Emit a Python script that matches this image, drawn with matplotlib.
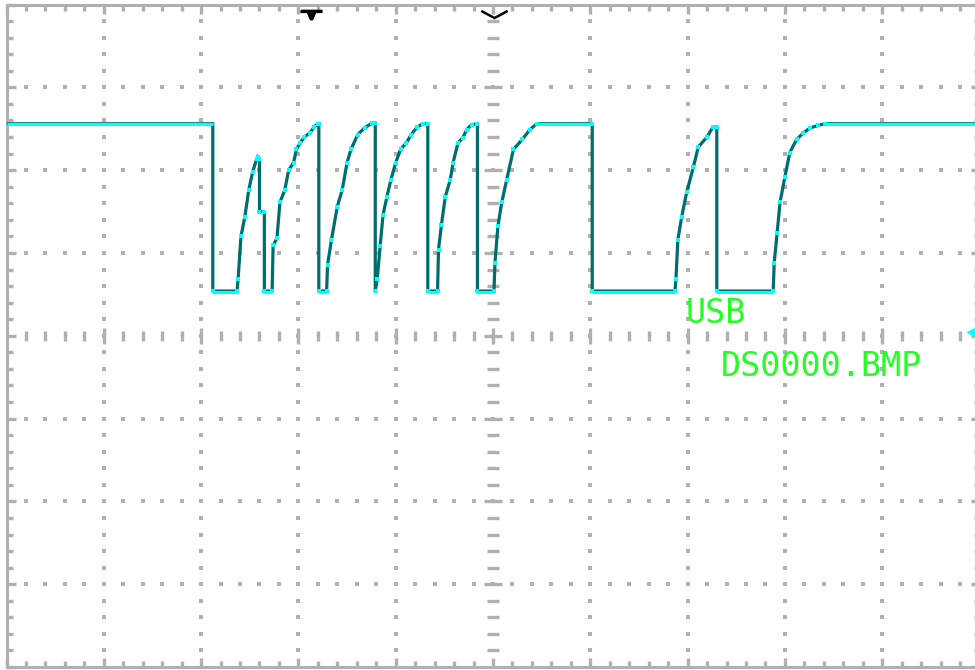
import numpy as np
import matplotlib
matplotlib.use("Agg")
import matplotlib.pyplot as plt
from matplotlib.path import Path

# screen is 10 x 8 divisions, values below are in divisions
t = [0.00, 2.12, 2.12, 2.37, 2.38, 2.41, 2.45, 2.49, 2.53, 2.57, 2.58, 2.60, 2.60, 2.65, 2.65,
     2.73, 2.74, 2.78, 2.81, 2.86, 2.90, 2.95, 2.98, 3.02, 3.06, 3.12, 3.16, 3.20, 3.21, 3.21,
     3.29, 3.30, 3.34, 3.40, 3.45, 3.50, 3.54, 3.61, 3.68, 3.76, 3.79, 3.79,
     3.81, 3.84, 3.87, 3.91, 3.95, 4.00, 4.05, 4.11, 4.16, 4.22, 4.28, 4.33, 4.33,
     4.43, 4.44, 4.47, 4.51, 4.56, 4.59, 4.64, 4.69, 4.73, 4.78, 4.84, 4.84,
     5.01, 5.02, 5.05, 5.09, 5.14, 5.21, 5.30, 5.38, 5.45, 6.02, 6.02,
     6.87, 6.88, 6.90, 6.94, 6.99, 7.06, 7.11, 7.20, 7.26, 7.30, 7.30,
     7.88, 7.89, 7.92, 7.95, 8.00, 8.05, 8.12, 8.19, 8.26, 8.34, 8.41, 10.05]
v = [2.56, 2.56, 0.54, 0.54, 0.68, 1.20, 1.44, 1.76, 1.98, 2.13, 2.16, 2.13, 1.50, 1.50, 0.54,
     0.54, 1.09, 1.18, 1.61, 1.76, 2.00, 2.09, 2.25, 2.33, 2.40, 2.45, 2.52, 2.56, 2.56, 0.54,
     0.54, 0.86, 1.16, 1.56, 1.76, 2.09, 2.25, 2.43, 2.51, 2.57, 2.57, 0.54,
     0.68, 1.08, 1.46, 1.68, 1.88, 2.09, 2.25, 2.33, 2.43, 2.52, 2.56, 2.56, 0.54,
     0.54, 1.04, 1.34, 1.68, 1.88, 2.09, 2.33, 2.39, 2.49, 2.55, 2.56, 0.54,
     0.54, 0.88, 1.32, 1.61, 1.88, 2.25, 2.37, 2.49, 2.56, 2.56, 0.54,
     0.54, 0.68, 1.16, 1.44, 1.73, 2.04, 2.28, 2.40, 2.52, 2.52, 0.54,
     0.54, 0.88, 1.24, 1.61, 1.92, 2.21, 2.37, 2.45, 2.51, 2.54, 2.56, 2.56]

high_level = 2.56
high_start = [0.00, 5.45, 8.41]
high_end = [2.12, 6.02, 10.05]
low_level = 0.53
low_start = [2.12, 2.65, 3.21, 4.33, 4.84, 6.02, 7.30]
low_end = [2.37, 2.73, 3.29, 4.43, 5.01, 6.87, 7.88]

trig_pos = 5.01
marker_pos = 3.125
level_pos = 0.05

label1 = "USB"
label2 = "DS0000.BMP"

grid_c = "#b0b0b0"
teal = "#006d6d"
cyan = "#00ffff"
green = "#22ff22"

fig = plt.figure(figsize=(9.75, 6.7), dpi=100)
ax = fig.add_axes([6.5 / 975, 3 / 670, 973 / 975, 662.5 / 670])
ax.set_xlim(0, 10)
ax.set_ylim(-4, 4)

for s in ax.spines.values():
    s.set_color(grid_c)
    s.set_linewidth(2.2)

ax.set_xticks(np.arange(0, 11, 1))
ax.set_yticks(np.arange(-4, 5, 1))
ax.set_xticks(np.arange(0, 10.01, 0.2), minor=True)
ax.set_yticks(np.arange(-4, 4.01, 0.2), minor=True)
ax.tick_params(which="both", direction="in", color=grid_c, top=True, right=True,
               labelbottom=False, labelleft=False)
ax.tick_params(which="major", length=6.5, width=2.4)
ax.tick_params(which="minor", length=4, width=2.4)

# dotted grid
minor_x = np.round(np.arange(0.2, 9.81, 0.2), 2)
minor_y = np.round(np.arange(-3.8, 3.81, 0.2), 2)
for gx in [1, 2, 3, 4, 6, 7, 8, 9]:
    ax.scatter(np.full(len(minor_y), gx), minor_y, marker="s", s=6, color=grid_c, lw=0, zorder=1)
for gy in [-3, -2, -1, 1, 2, 3]:
    ax.scatter(minor_x, np.full(len(minor_x), gy), marker="s", s=6, color=grid_c, lw=0, zorder=1)

# center cross with tick dashes
is_major_x = np.isclose(minor_x, np.round(minor_x))
is_major_y = np.isclose(minor_y, np.round(minor_y))
ax.plot(minor_x[~is_major_x], np.zeros((~is_major_x).sum()), ls="none", marker="|", ms=7.5, mew=2.4, color=grid_c)
ax.plot(minor_x[is_major_x], np.zeros(is_major_x.sum()), ls="none", marker="|", ms=12, mew=2.4, color=grid_c)
ax.plot(np.full((~is_major_y).sum(), 5), minor_y[~is_major_y], ls="none", marker="_", ms=9, mew=2.4, color=grid_c)
ax.plot(np.full(is_major_y.sum(), 5), minor_y[is_major_y], ls="none", marker="_", ms=13, mew=2.4, color=grid_c)

# waveform: dark vectors, bright sample dots
ax.plot(t, v, color=teal, lw=2.3, solid_joinstyle="miter", solid_capstyle="butt", zorder=3)
ax.hlines([high_level] * len(high_start), high_start, high_end, color=cyan, lw=2.2, zorder=4)
ax.hlines([low_level] * len(low_start), low_start, low_end, color=cyan, lw=2.2, zorder=4)
ax.plot(t[2:-1], v[2:-1], ls="none", marker="s", ms=2.4, mew=0, color=cyan, zorder=4)

# top markers
tmark = [(-10, 4), (10, 4), (10, 2), (4, 2), (1, -5), (-1, -5), (-4, 2), (-10, 2), (-10, 4)]
ax.plot([marker_pos], [3.886], marker=tmark, ms=15, color="black", ls="none", clip_on=False, zorder=5)
vpath = Path([(-13, 3.5), (0, -3.5), (13, 3.5)], [Path.MOVETO, Path.LINETO, Path.LINETO])
ax.plot([trig_pos], [3.88], marker=vpath, ms=19, mfc="none", mec="black", mew=1.8, ls="none",
        clip_on=False, zorder=5)
ax.plot([9.93], [level_pos], marker="<", ms=9, color=cyan, ls="none", clip_on=False, zorder=5)

ax.text(7.29, 0.15, label1, color=green, fontsize=24, family="DejaVu Sans Mono",
        ha="center", va="baseline", zorder=6)
ax.text(8.37, -0.48, label2, color=green, fontsize=24, family="DejaVu Sans Mono",
        ha="center", va="baseline", zorder=6)

fig.savefig("out.png", dpi=100, facecolor="white")
